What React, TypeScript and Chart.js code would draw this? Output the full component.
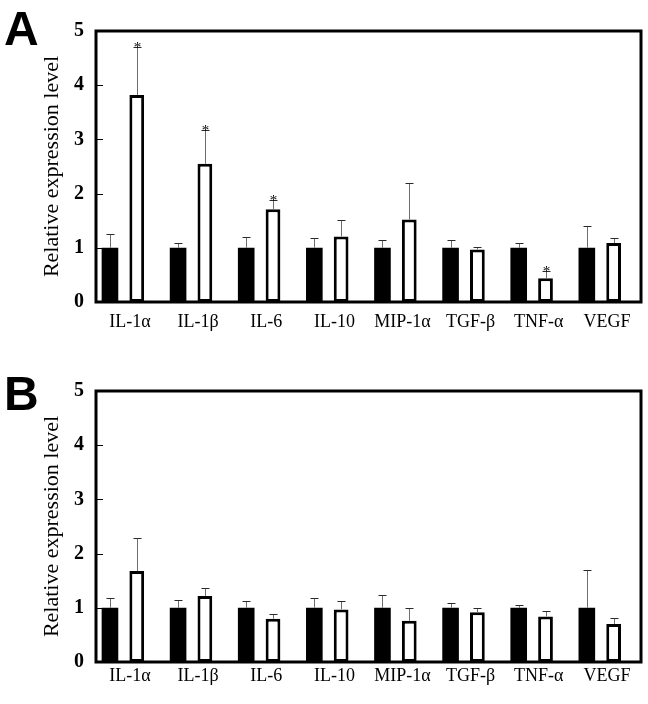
import { useEffect, useRef } from 'react';
import { Chart, registerables } from 'chart.js';

Chart.register(...registerables);

const categories = ['IL-1α', 'IL-1β', 'IL-6', 'IL-10', 'MIP-1α', 'TGF-β', 'TNF-α', 'VEGF'];
const yTickValues = [0, 1, 2, 3, 4, 5];
const yAxisTitle = 'Relative expression level';

// Panel A
const aControl = [1, 1, 1, 1, 1, 1, 1, 1];
const aControlErr = [0.25, 0.08, 0.2, 0.19, 0.14, 0.14, 0.08, 0.4];
const aTreated = [3.82, 2.55, 1.71, 1.21, 1.52, 0.97, 0.44, 1.09];
const aTreatedErr = [0.89, 0.63, 0.18, 0.31, 0.67, 0.05, 0.14, 0.1];
const aSignificant = [true, true, true, false, false, false, true, false];

// Panel B
const bControl = [1, 1, 1, 1, 1, 1, 1, 1];
const bControlErr = [0.19, 0.15, 0.13, 0.19, 0.23, 0.08, 0.06, 0.7];
const bTreated = [1.68, 1.22, 0.8, 0.97, 0.76, 0.92, 0.84, 0.7];
const bTreatedErr = [0.61, 0.14, 0.08, 0.16, 0.23, 0.08, 0.11, 0.11];
const bSignificant = [false, false, false, false, false, false, false, false];

const SERIF = '"Liberation Serif", "Times New Roman", serif';
const SANS = '"Liberation Sans", Arial, sans-serif';

type PanelSpec = {
  letter: string;
  letterY: number;
  padTop: number;
  xAxisHeight: number;
  xLabelPad: number;
  control: number[];
  controlErr: number[];
  treated: number[];
  treatedErr: number[];
  sig: boolean[];
};

const specA: PanelSpec = {
  letter: 'A', letterY: 45, padTop: 31, xAxisHeight: 50, xLabelPad: 9,
  control: aControl, controlErr: aControlErr, treated: aTreated, treatedErr: aTreatedErr, sig: aSignificant,
};
const specB: PanelSpec = {
  letter: 'B', letterY: 58, padTop: 39, xAxisHeight: 42, xLabelPad: 3,
  control: bControl, controlErr: bControlErr, treated: bTreated, treatedErr: bTreatedErr, sig: bSignificant,
};

function decorPlugin(spec: PanelSpec) {
  return {
    id: 'panelDecor',
    afterDatasetsDraw(chart: any) {
      const ctx = chart.ctx as CanvasRenderingContext2D;
      const ys = chart.scales.y;
      const area = chart.chartArea;
      ctx.save();
      const series: [number, number[], number[]][] = [
        [0, spec.control, spec.controlErr],
        [2, spec.treated, spec.treatedErr],
      ];
      for (const [di, vals, errs] of series) {
        const meta = chart.getDatasetMeta(di);
        meta.data.forEach((bar: any, i: number) => {
          const x = Math.round(bar.x) + 0.5;
          const y0 = ys.getPixelForValue(vals[i]);
          const y1 = Math.round(ys.getPixelForValue(vals[i] + errs[i])) + 0.5;
          ctx.lineWidth = 1;
          ctx.strokeStyle = '#6e6e6e';
          ctx.beginPath();
          ctx.moveTo(x, y0);
          ctx.lineTo(x, y1);
          ctx.stroke();
          ctx.strokeStyle = '#2a2a2a';
          ctx.beginPath();
          ctx.moveTo(x - 4, y1);
          ctx.lineTo(x + 4, y1);
          ctx.stroke();
          if (di === 2 && spec.sig[i]) {
            ctx.fillStyle = '#000';
            ctx.font = `15px ${SERIF}`;
            ctx.textAlign = 'center';
            ctx.textBaseline = 'alphabetic';
            ctx.fillText('*', x, y1 + 4);
          }
        });
      }
      // inward tick marks on the y axis
      ctx.strokeStyle = '#000';
      ctx.lineWidth = 1;
      for (const v of yTickValues) {
        const ty = Math.round(ys.getPixelForValue(v)) + 0.5;
        ctx.beginPath();
        ctx.moveTo(area.left, ty);
        ctx.lineTo(area.left + 7, ty);
        ctx.stroke();
      }
      // frame
      ctx.lineWidth = 3;
      ctx.strokeRect(area.left, area.top, area.right - area.left, area.bottom - area.top);
      // panel letter
      ctx.fillStyle = '#000';
      ctx.font = `bold 48px ${SANS}`;
      ctx.textAlign = 'left';
      ctx.textBaseline = 'alphabetic';
      ctx.fillText(spec.letter, 4, spec.letterY);
      ctx.restore();
    },
  };
}

function makeChart(canvas: HTMLCanvasElement, spec: PanelSpec) {
  const nulls = categories.map(() => null);
  return new Chart(canvas, {
    type: 'bar',
    data: {
      labels: categories,
      datasets: [
        { label: 'Control', data: spec.control, backgroundColor: '#000', borderWidth: 0, barPercentage: 1.24 },
        { label: 'gap1', data: nulls as any },
        {
          label: 'Treated', data: spec.treated, backgroundColor: '#fff', borderColor: '#000',
          borderWidth: 3, borderSkipped: false, barPercentage: 1.1,
        },
        { label: 'gap2', data: nulls as any },
      ],
    },
    options: {
      responsive: false,
      animation: false,
      events: [],
      layout: { padding: { top: spec.padTop, right: 7, left: 0, bottom: 0 } },
      datasets: { bar: { categoryPercentage: 0.787 } },
      plugins: { legend: { display: false }, tooltip: { enabled: false } },
      scales: {
        x: {
          grid: { display: false, drawTicks: false },
          border: { display: false },
          ticks: {
            color: '#000', font: { family: SERIF, size: 18 }, padding: spec.xLabelPad,
            maxRotation: 0, autoSkip: false,
          },
          afterFit: (s: any) => { s.height = spec.xAxisHeight; },
        },
        y: {
          min: 0, max: 5,
          grid: { display: false, drawTicks: false },
          border: { display: false },
          ticks: {
            stepSize: 1, color: '#000', padding: 12,
            font: { family: SERIF, size: 20, weight: 'bold' },
          },
          title: {
            display: true, text: yAxisTitle, color: '#000',
            font: { family: SERIF, size: 22 }, padding: { top: 39, bottom: 0 },
          },
          afterFit: (s: any) => { s.width = 96; },
        },
      },
    },
    plugins: [decorPlugin(spec)],
  } as any);
}

export default function App() {
  const refA = useRef<HTMLCanvasElement>(null);
  const refB = useRef<HTMLCanvasElement>(null);
  useEffect(() => {
    const a = makeChart(refA.current!, specA);
    const b = makeChart(refB.current!, specB);
    return () => { a.destroy(); b.destroy(); };
  }, []);
  return (
    <div style={{ position: 'absolute', left: 0, top: 0, width: 648, height: 704, background: '#fff' }}>
      <canvas ref={refA} width={648} height={352} style={{ position: 'absolute', left: 0, top: 0, width: 648, height: 352 }} />
      <canvas ref={refB} width={648} height={352} style={{ position: 'absolute', left: 0, top: 352, width: 648, height: 352 }} />
    </div>
  );
}
